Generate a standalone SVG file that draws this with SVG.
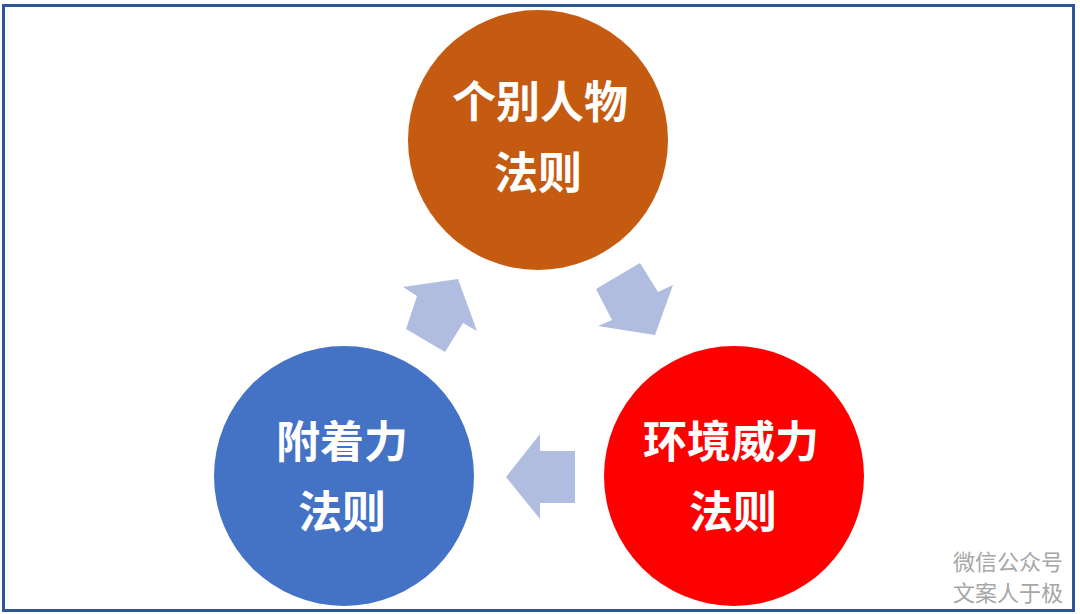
<svg xmlns="http://www.w3.org/2000/svg" width="1080" height="614" viewBox="0 0 1080 614">
<style>
.lbl{font-family:"Noto Sans CJK SC","Noto Sans CJK TC",sans-serif;font-weight:700;font-size:44px;fill:#ffffff;text-anchor:middle}
.wm{font-family:"Noto Sans CJK SC",sans-serif;font-size:22px;fill:#a6a6a6;text-anchor:end}
.arr{fill:#b0bde0}
</style>
<rect x="0" y="0" width="1080" height="614" fill="#ffffff"/>
<rect x="3.5" y="5.5" width="1070" height="605" fill="#ffffff" stroke="#2f5597" stroke-width="3"/>
<g id="connectors">
<polygon class="arr" points="403,287 458,279 477,331 463,323 445,352 406,329 417,296"/>
<polygon class="arr" points="596,289 640,263 658,292 673,285 655,335 598,326 612,320"/>
<polygon class="arr" points="506,477 540,434 540,451 575,451 575,503 540,503 540,519"/>
</g>
<g id="node-top">
<circle cx="538" cy="140" r="130" fill="#c55a11"/>
<text class="lbl" x="540" y="118">个别人物</text>
<text class="lbl" x="538" y="189">法则</text>
</g>
<g id="node-left">
<circle cx="344" cy="476" r="130" fill="#4472c4"/>
<text class="lbl" x="342" y="458">附着力</text>
<text class="lbl" x="342" y="528">法则</text>
</g>
<g id="node-right">
<circle cx="734" cy="476" r="130" fill="#ff0000"/>
<text class="lbl" x="731" y="458">环境威力</text>
<text class="lbl" x="733" y="528">法则</text>
</g>
<g id="watermark">
<text class="wm" x="1063" y="570">微信公众号</text>
<text class="wm" x="1063" y="601">文案人于极</text>
</g>
</svg>
